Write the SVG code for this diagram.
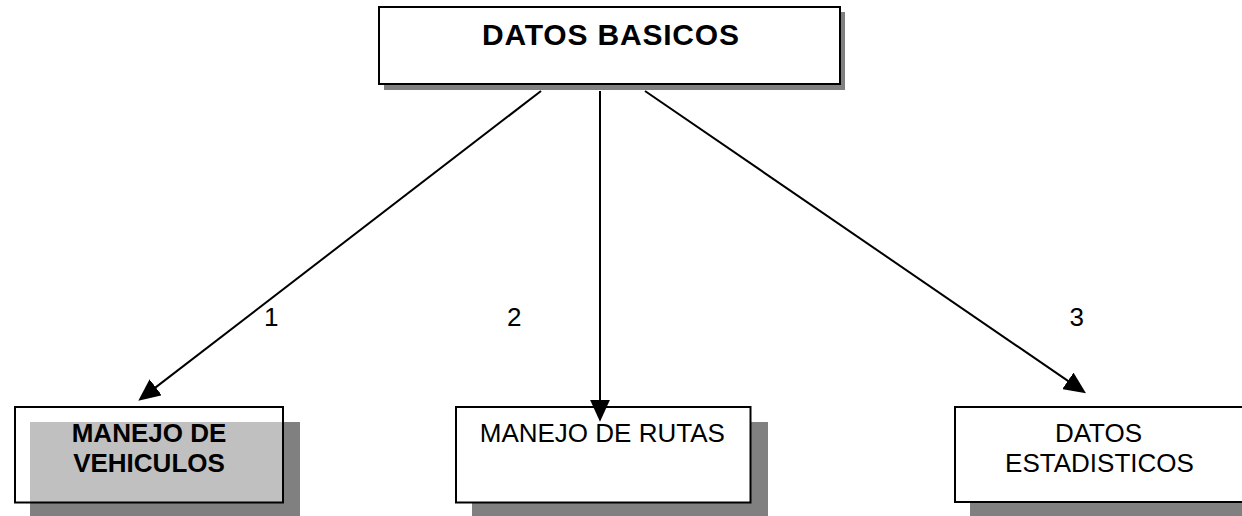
<svg xmlns="http://www.w3.org/2000/svg" width="1242" height="516" viewBox="0 0 1242 516">
<style>
.box{fill:#fff;stroke:#000;stroke-width:2}
.open{fill:none;stroke:#000;stroke-width:2}
.shadow{fill:#808080}
.t{font-family:"Liberation Sans",Arial,sans-serif;fill:#000}
.b{font-weight:bold}
.c{text-anchor:middle}
.conn{stroke:#000;stroke-width:2;fill:none;marker-end:url(#ah)}
</style>
<defs>
<marker id="ah" viewBox="0 0 22 20" refX="12" refY="10" markerWidth="22" markerHeight="20" markerUnits="userSpaceOnUse" orient="auto">
<path d="M0,0 L22,10 L0,20 z" fill="#000"/>
</marker>
</defs>
<rect width="1242" height="516" fill="#fff"/>
<g id="datos-basicos">
<rect class="shadow" x="384" y="12" width="461" height="78"/>
<rect class="box" x="379" y="7" width="461" height="77"/>
<text class="t b c" x="610.5" y="45.3" font-size="30" textLength="257" lengthAdjust="spacing">DATOS BASICOS</text>
</g>
<g id="manejo-vehiculos">
<rect class="shadow" x="30" y="422" width="270" height="96"/>
<rect fill="#c0c0c0" x="30" y="422" width="253" height="80.5"/>
<rect class="open" x="15" y="407" width="268" height="95.5"/>
<text class="t b c" x="149" y="441.7" font-size="26">MANEJO DE</text>
<text class="t b c" x="149" y="471.7" font-size="26">VEHICULOS</text>
</g>
<g id="manejo-rutas">
<rect class="shadow" x="472" y="422" width="296" height="96"/>
<rect class="box" x="456" y="407" width="294.5" height="95.5"/>
<text class="t c" x="602.3" y="441.7" font-size="26">MANEJO DE RUTAS</text>
</g>
<g id="datos-estadisticos">
<rect class="shadow" x="970" y="422" width="290" height="96"/>
<rect class="box" x="955" y="407" width="300" height="95"/>
<text class="t c" x="1098.5" y="441.7" font-size="26">DATOS</text>
<text class="t c" x="1099.5" y="471.7" font-size="26">ESTADISTICOS</text>
</g>
<g id="connectors">
<line class="conn" x1="541" y1="91" x2="146.2" y2="394.6"/>
<line class="conn" x1="600" y1="91" x2="600" y2="411.7"/>
<line class="conn" x1="645" y1="91" x2="1077.75" y2="387.65"/>
<text class="t" x="264" y="326" font-size="26">1</text>
<text class="t" x="507" y="326" font-size="26">2</text>
<text class="t" x="1069.6" y="326" font-size="26">3</text>
</g>
</svg>
